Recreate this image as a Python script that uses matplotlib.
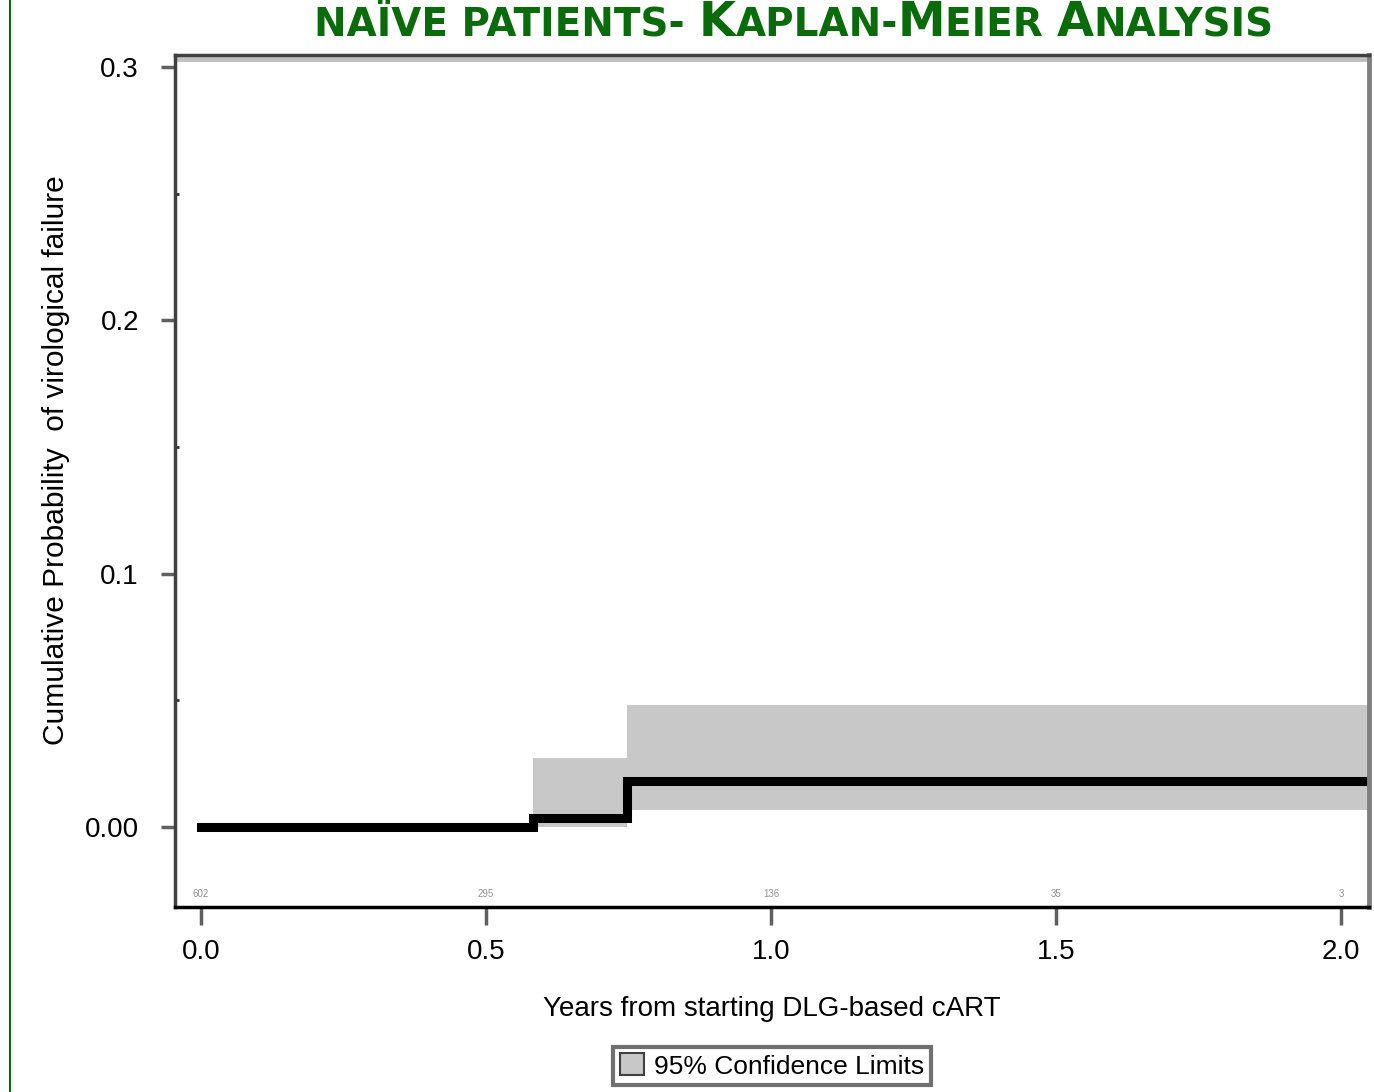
import matplotlib
matplotlib.use("Agg")
import matplotlib.pyplot as plt
from matplotlib.lines import Line2D
from matplotlib.patches import Patch
from matplotlib.offsetbox import TextArea, HPacker, AnchoredOffsetbox

# ---- data ----
time = [0.0, 0.582, 0.747, 2.05]
cum_prob = [0.0, 0.0036, 0.0182, 0.0182]
ci_lower = [0.0, 0.0, 0.0067, 0.0067]
ci_upper = [0.0, 0.0272, 0.048, 0.048]
risk_times = [0.0, 0.5, 1.0, 1.5, 2.0]
at_risk = ["602", "295", "136", "35", "3"]
xticks = [0.0, 0.5, 1.0, 1.5, 2.0]
xticklabels = ["0.0", "0.5", "1.0", "1.5", "2.0"]
yticks = [0.0, 0.1, 0.2, 0.3]
yticklabels = ["0.00", "0.1", "0.2", "0.3"]
yminor = [0.05, 0.15, 0.25]
title_parts = [("NAÏVE PATIENTS- ", "s"), ("K", "L"), ("APLAN-", "s"), ("M", "L"),
               ("EIER ", "s"), ("A", "L"), ("NALYSIS", "s")]

W, H = 1374, 1092
fig = plt.figure(figsize=(W / 100, H / 100), dpi=100)
ax = fig.add_axes([175 / W, 1 - 907 / H, (1369 - 175) / W, (907 - 55) / H])

font = "Liberation Sans"
green = "#0a6b0a"

ax.fill_between(time, ci_lower, ci_upper, step="post", color="#c8c8c8", lw=0)
ax.step(time, cum_prob, where="post", color="black", lw=6.5, solid_joinstyle="miter")

ax.set_xlim(-0.0456, 2.049)
ax.set_ylim(-0.0316, 0.3047)

ax.set_xticks(xticks)
ax.set_xticklabels(xticklabels, fontsize=20, family=font)
ax.set_yticks(yticks)
ax.set_yticklabels(yticklabels, fontsize=20, family=font)
ax.set_yticks(yminor, minor=True)
ax.tick_params(axis="x", which="major", length=13, width=2.5, color="#606060", pad=10)
ax.tick_params(axis="y", which="major", length=10, width=2.5, color="#606060", pad=16)
ax.tick_params(axis="y", which="minor", length=3, width=2, color="#303030", direction="in")

for t, n in zip(risk_times, at_risk):
    ax.text(t, -0.0265, n, ha="center", va="center", fontsize=7, color="#909090", family=font)

ax.spines["left"].set_color("#404040")
ax.spines["left"].set_linewidth(2.5)
ax.spines["top"].set_color("#404040")
ax.spines["top"].set_linewidth(2.5)
ax.spines["right"].set_color("#808080")
ax.spines["right"].set_linewidth(3.5)
ax.spines["bottom"].set_color("black")
ax.spines["bottom"].set_linewidth(2.5)
ax.plot([0, 1], [0.9955, 0.9955], transform=ax.transAxes, color="#c0c0c0", lw=3.5,
        clip_on=False, solid_capstyle="butt")

ax.set_xlabel("Years from starting DLG-based cART", fontsize=20, family=font, labelpad=22)
ax.set_ylabel("Cumulative Probability  of virological failure", fontsize=21.5, family=font)
ax.yaxis.set_label_coords(-0.088, 0.525)

leg = fig.legend(handles=[Patch(facecolor="#c8c8c8", edgecolor="#404040", lw=1.5)],
                 labels=["95% Confidence Limits"], loc="center",
                 bbox_to_anchor=(772 / W, 1 - 1066 / H), prop={"family": font, "size": 19},
                 fancybox=False, framealpha=1, edgecolor="#707070",
                 handlelength=0.9, handleheight=0.9, handletextpad=0.4, borderpad=0.25)
leg.get_frame().set_linewidth(3)

# title with small caps
areas = []
for txt, kind in title_parts:
    size = 34.5 if kind == "L" else 28
    areas.append(TextArea(txt, textprops=dict(fontsize=size, fontweight="bold", color=green,
                                              family="DejaVu Sans Condensed")))
pack = HPacker(children=areas, align="baseline", pad=0, sep=0)
anch = AnchoredOffsetbox(loc="center", child=pack, frameon=False, pad=0, borderpad=0,
                         bbox_to_anchor=(794 / W, 1 - 23 / H), bbox_transform=fig.transFigure)
fig.add_artist(anch)

fig.add_artist(Line2D([10 / W, 10 / W], [0, 1], color=green, lw=1.5))

fig.savefig("out.png", dpi=100)
